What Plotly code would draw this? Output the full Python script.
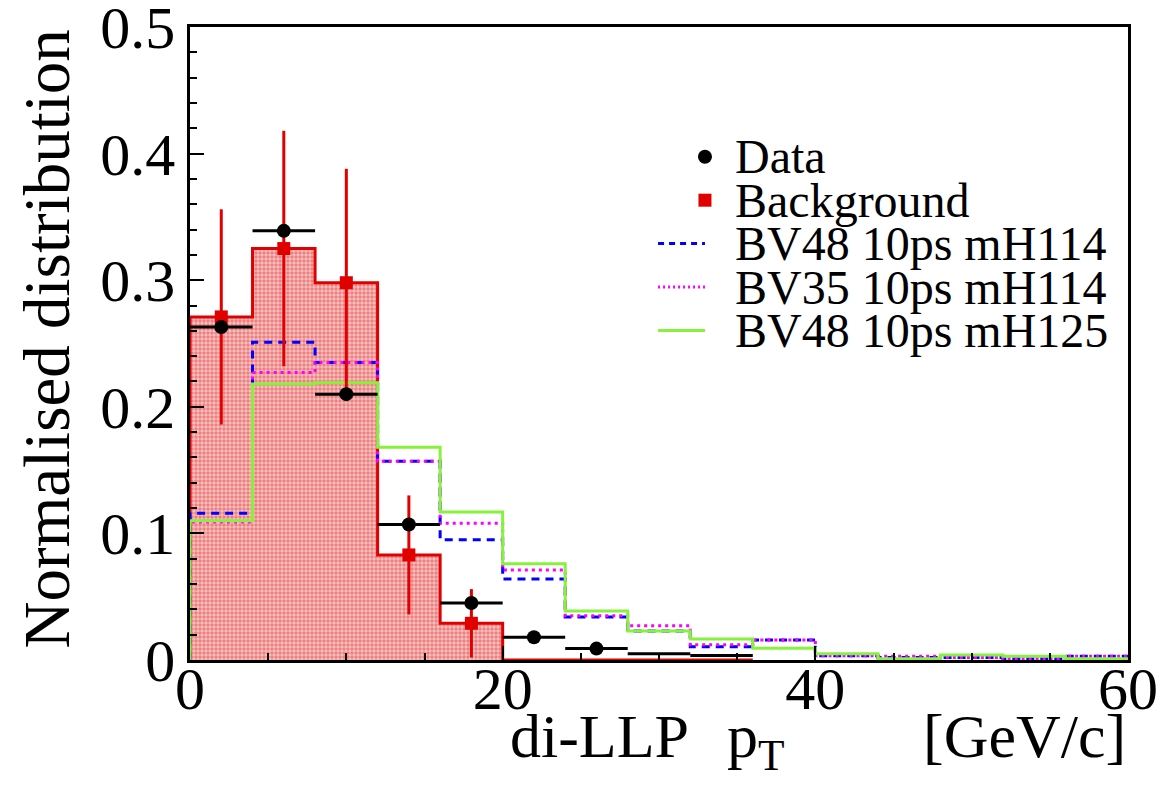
import plotly.graph_objects as go

# Binning of the di-LLP pT histograms [GeV/c]
bin_edges = [0, 4, 8, 12, 16, 20, 24, 28, 32, 36, 40, 44, 48, 52, 56, 60]

# Observed data (normalised), one value per bin
data_vals = [0.263, 0.339, 0.210, 0.107, 0.045, 0.018, 0.009, 0.005, 0.0035]

# Background estimate (normalised) and its uncertainty
bkg_vals = [0.271, 0.325, 0.298, 0.083, 0.029, 0.0, 0.0, 0.0, 0.0]
bkg_errs = [0.085, 0.093, 0.090, 0.047, 0.027, 0.0, 0.0, 0.0, 0.0]

# Signal hypotheses (normalised)
sig_bv48_mh114 = [0.116, 0.251, 0.235, 0.157, 0.095, 0.064, 0.034, 0.023,
                  0.0105, 0.0158, 0.0033, 0.002, 0.002, 0.001, 0.003]
sig_bv35_mh114 = [0.109, 0.227, 0.235, 0.157, 0.108, 0.071, 0.035, 0.027,
                  0.012, 0.0158, 0.0033, 0.003, 0.002, 0.001, 0.003]
sig_bv48_mh125 = [0.110, 0.218, 0.219, 0.168, 0.117, 0.076, 0.0388, 0.023,
                  0.0166, 0.0092, 0.0049, 0.001, 0.004, 0.003, 0.001]

legend_labels = ["Data", "Background", "BV48 10ps mH114",
                 "BV35 10ps mH114", "BV48 10ps mH125"]

SERIF = "Liberation Serif, Times New Roman, serif"
RED = "#e00000"
BLUE = "#0000ff"
MAGENTA = "#ff00ff"
GREEN = "#86f23c"


def step_outline(vals):
    """x/y points of a histogram outline drawn with line_shape='hv'."""
    n = len(vals)
    xs = [bin_edges[0]] + bin_edges[:n] + [bin_edges[n], bin_edges[n]]
    ys = [0.0] + list(vals) + [vals[-1], 0.0]
    return xs, ys


def centres(n):
    return [(bin_edges[i] + bin_edges[i + 1]) / 2 for i in range(n)]


def half_widths(n):
    return [(bin_edges[i + 1] - bin_edges[i]) / 2 for i in range(n)]


fig = go.Figure()

# Background histogram with dotted red fill
bx, by = step_outline(bkg_vals)
fig.add_trace(go.Scatter(
    x=bx, y=by, mode="lines", line=dict(color=RED, width=3, shape="hv"),
    fill="tozeroy", fillcolor="rgba(240,140,140,0.6)",
    fillpattern=dict(shape=".", fgcolor="#e23a3a", bgcolor="#f9c4c4",
                     size=4, solidity=0.6),
    showlegend=False, hoverinfo="skip"))

# Signal histograms
for vals, colour, dash in [
        (sig_bv48_mh114, BLUE, "8px,6px"),
        (sig_bv35_mh114, MAGENTA, "3px,4px"),
        (sig_bv48_mh125, GREEN, "solid")]:
    sx, sy = step_outline(vals)
    fig.add_trace(go.Scatter(
        x=sx, y=sy, mode="lines",
        line=dict(color=colour, width=3, shape="hv", dash=dash),
        showlegend=False, hoverinfo="skip"))

# Background points with uncertainties (non-empty bins only)
nb = len(bkg_vals)
bkg_idx = [i for i in range(nb) if bkg_vals[i] > 0]
fig.add_trace(go.Scatter(
    x=[centres(nb)[i] for i in bkg_idx], y=[bkg_vals[i] for i in bkg_idx],
    mode="markers", marker=dict(symbol="square", size=13, color=RED,
                                opacity=1),
    error_y=dict(type="data", array=[bkg_errs[i] for i in bkg_idx],
                 color=RED, thickness=3, width=0),
    showlegend=False))

# Data points with bin-width horizontal bars
nd = len(data_vals)
fig.add_trace(go.Scatter(
    x=centres(nd), y=data_vals, mode="markers",
    marker=dict(symbol="circle", size=[14 if v > 0.008 else 0 for v in data_vals],
                color="black", opacity=1, line=dict(width=0)),
    error_x=dict(type="data", array=half_widths(nd), color="black",
                 thickness=3, width=0),
    showlegend=False))

# Legend box drawn in paper coordinates
row_top, row_step = 0.795, 0.0686
sym_x, line_x0, text_x = 0.549, 0.499, 0.579
ys_rows = [row_top - i * row_step for i in range(len(legend_labels))]
for lab, yr in zip(legend_labels, ys_rows):
    fig.add_annotation(x=text_x, y=yr, xref="paper", yref="paper",
                       text=lab, showarrow=False, xanchor="left",
                       yanchor="middle", font=dict(family=SERIF, size=48,
                                                   color="black"))
fig.add_shape(type="circle", xref="paper", yref="paper",
              xsizemode="pixel", ysizemode="pixel",
              xanchor=sym_x, yanchor=ys_rows[0], x0=-7, x1=7, y0=-7, y1=7,
              fillcolor="black", line=dict(width=0))
fig.add_shape(type="rect", xref="paper", yref="paper",
              xsizemode="pixel", ysizemode="pixel",
              xanchor=sym_x, yanchor=ys_rows[1], x0=-6.5, x1=6.5, y0=-6.5, y1=6.5,
              fillcolor=RED, line=dict(width=0))
for yr, colour, dash in [(ys_rows[2], BLUE, "6px,5px"),
                         (ys_rows[3], MAGENTA, "2px,3px"),
                         (ys_rows[4], GREEN, "solid")]:
    fig.add_shape(type="line", xref="paper", yref="paper",
                  x0=line_x0, x1=sym_x, y0=yr, y1=yr,
                  line=dict(color=colour, width=3, dash=dash))

# Axis titles
title_y = -0.063
fig.add_annotation(x=1.0, y=title_y, xref="paper", yref="paper",
                   text="[GeV/c]", showarrow=False, xanchor="right",
                   yanchor="top", font=dict(family=SERIF, size=62, color="black"))
fig.add_annotation(x=0.570, y=title_y, xref="paper", yref="paper",
                   text="p<sub>T</sub>", showarrow=False, xanchor="left",
                   yanchor="top", font=dict(family=SERIF, size=62, color="black"))
fig.add_annotation(x=0.534, y=title_y, xref="paper", yref="paper",
                   text="di-LLP", showarrow=False, xanchor="right",
                   yanchor="top", font=dict(family=SERIF, size=62, color="black"))
fig.add_annotation(x=-0.1525, y=1.0, xref="paper", yref="paper",
                   text="Normalised distribution", textangle=-90,
                   showarrow=False, xanchor="center", yanchor="top",
                   font=dict(family=SERIF, size=65, color="black"))

axis_common = dict(showline=True, linecolor="black", linewidth=2.5,
                   mirror=True, showgrid=False, zeroline=False,
                   ticks="inside", tickcolor="black", tickwidth=2,
                   ticklen=14, automargin=False, ticklabeloverflow="allow",
                   tickfont=dict(family=SERIF, size=60, color="black"))
fig.update_xaxes(range=[0, 60], dtick=20, tick0=0, ticklabelstandoff=-26,
                 minor=dict(ticks="inside", dtick=5, ticklen=7,
                            tickcolor="black", tickwidth=2),
                 **axis_common)
fig.update_yaxes(range=[0, 0.500001], dtick=0.1, tick0=0,
                 minor=dict(ticks="inside", dtick=0.02, ticklen=7,
                            tickcolor="black", tickwidth=2),
                 **axis_common)

fig.update_layout(width=1160, height=787,
                  margin=dict(l=190, r=32, t=27, b=127),
                  plot_bgcolor="white", paper_bgcolor="white",
                  showlegend=False)

fig.write_html("out.html")
